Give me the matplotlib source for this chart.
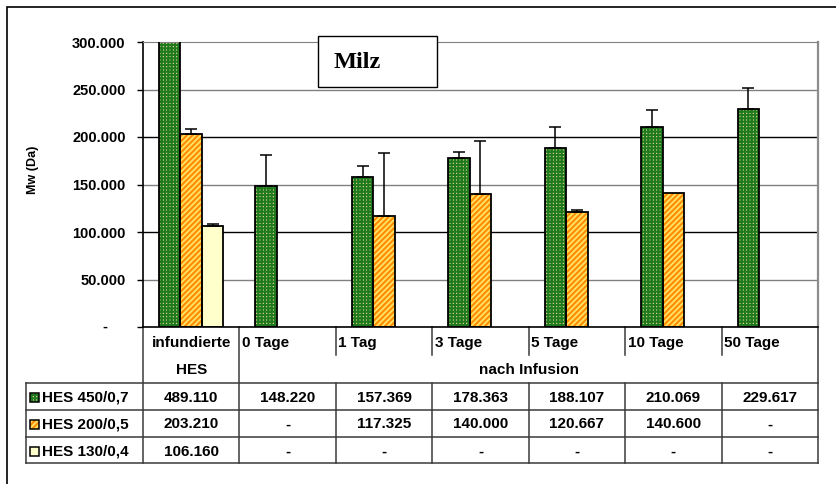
import numpy as np
import matplotlib.pyplot as plt
from matplotlib.patches import Rectangle
from matplotlib.lines import Line2D

plt.rcParams['font.family'] = ['Liberation Sans', 'DejaVu Sans']
plt.rcParams['font.weight'] = 'bold'
plt.rcParams['hatch.linewidth'] = 1.5

# Mw in Da, spleen ("Milz")
groups = ['infundierte', '0 Tage', '1 Tag', '3 Tage', '5 Tage', '10 Tage', '50 Tage']
series = ['HES 450/0,7', 'HES 200/0,5', 'HES 130/0,4']
hes450 = [489110, 148220, 157369, 178363, 188107, 210069, 229617]
hes200 = [203210, np.nan, 117325, 140000, 120667, 140600, np.nan]
hes130 = [106160, np.nan, np.nan, np.nan, np.nan, np.nan, np.nan]
# upper error bars (SD)
err450 = [0, 33000, 12000, 5500, 22000, 18700, 21600]
err200 = [5000, 0, 66000, 56000, 3000, 0, 0]
err130 = [2500, 0, 0, 0, 0, 0, 0]

yticks = [0, 50000, 100000, 150000, 200000, 250000, 300000]
ytick_labels = ['', '50.000', '100.000', '150.000', '200.000', '250.000', '300.000']

values = [hes450, hes200, hes130]
errors = [err450, err200, err130]
styles = [
    dict(face='#e6d48e', hatch='+++++', hcolor='#1f7a1f'),
    dict(face='#ffe266', hatch='//////', hcolor='#ff8c00'),
    dict(face='#ffffcc', hatch=None, hcolor='#ffffcc'),
]

W, H = 836, 484
fig = plt.figure(figsize=(W / 100, H / 100), dpi=100)
ax = fig.add_axes([143 / W, 1 - 327 / H, 675 / W, 285 / H])

x = np.arange(len(groups))
bw = 0.223
for k in range(3):
    vals = np.array(values[k], dtype=float)
    have = ~np.isnan(vals)
    v = np.nan_to_num(vals)
    off = (k - 1) * bw
    st = styles[k]
    # hatched fill first, then black outline on top
    ax.bar((x + off)[have], v[have], bw, color=st['face'], edgecolor=st['hcolor'],
           hatch=st['hatch'], linewidth=0, zorder=2)
    ax.bar((x + off)[have], v[have], bw, facecolor='none', edgecolor='black',
           linewidth=1.3, zorder=3)
    e = np.array(errors[k], dtype=float)
    m = e > 0
    ax.errorbar((x + off)[m], v[m], yerr=[np.zeros(m.sum()), e[m]], fmt='none',
                ecolor='black', elinewidth=1.1, capsize=4, capthick=1.1, zorder=4)

ax.set_xlim(-0.5, len(groups) - 0.5)
ax.set_ylim(0, 300000)
ax.set_xticks([])
ax.set_yticks(yticks)
ax.set_yticklabels(ytick_labels)
ax.tick_params(axis='y', direction='out', length=4.5, width=1, pad=8, labelsize=10.5)
# zero shown as a dash
ax.text(-38 / 675, 0, '-', transform=ax.transAxes, ha='center', va='center', fontsize=10.5)

grid_colors = ['#808080', 'black', '#808080', 'black', '#808080']
for yv, c in zip(yticks[1:-1], grid_colors):
    ax.axhline(yv, color=c, linewidth=1, zorder=1)

ax.spines['left'].set_linewidth(1.2)
ax.spines['bottom'].set_linewidth(1.2)
ax.spines['top'].set_color('#808080')
ax.spines['right'].set_color('#8c8c8c')
ax.spines['right'].set_linewidth(1.6)

fig.text(33 / W, 1 - 170 / H, 'Mw (Da)', rotation=90, ha='center', va='center', fontsize=9)

# title box
ax.add_patch(Rectangle((0.2593, 0.842), 0.1763, 0.179, transform=ax.transAxes,
                       facecolor='white', edgecolor='black', linewidth=1, zorder=5, clip_on=False))
ax.text(0.283, (327 - 68) / 285, 'Milz', transform=ax.transAxes, ha='left', va='baseline',
        fontsize=17.5, family=['Liberation Serif', 'DejaVu Serif'], fontweight='bold', zorder=6)

# data table under the plot
tr = ax.get_xaxis_transform()


def fy(p):
    return (327 - p) / 285


left_edge = -0.5 - (143 - 26) / 96.43
right_edge = len(groups) - 0.5
lc = '#3a3a3a'


def line(xs, ys):
    ax.add_line(Line2D(xs, ys, transform=tr, color=lc, linewidth=1.1, clip_on=False))


for p in [383, 410, 437, 463]:
    line([left_edge, right_edge], [fy(p), fy(p)])
for xb in [-0.5, 0.5, right_edge]:
    line([xb, xb], [fy(327), fy(463)])
for xb in np.arange(1.5, len(groups) - 1, 1.0):
    line([xb, xb], [fy(327), fy(355)])
    line([xb, xb], [fy(383), fy(463)])
line([left_edge, left_edge], [fy(383), fy(463)])

ax.text(0, fy(347), groups[0], transform=tr, ha='center', va='baseline', fontsize=11)
ax.text(0, fy(374), 'HES', transform=tr, ha='center', va='baseline', fontsize=11)
for i in range(1, len(groups)):
    ax.text(i - 0.5 + 0.025, fy(347), groups[i], transform=tr, ha='left', va='baseline', fontsize=11)
ax.text((0.5 + right_edge) / 2, fy(374), 'nach Infusion', transform=tr, ha='center',
        va='baseline', fontsize=11)

row_base = [401.5, 428.5, 455.5]
sq_x0 = -0.5 - (143 - 30) / 96.43
sq_w = 9 / 96.43
for k in range(3):
    b = row_base[k]
    st = styles[k]
    ax.add_patch(Rectangle((sq_x0, fy(b)), sq_w, 9 / 285, transform=tr, facecolor=st['face'],
                           edgecolor=st['hcolor'], hatch=st['hatch'], linewidth=0, clip_on=False))
    ax.add_patch(Rectangle((sq_x0, fy(b)), sq_w, 9 / 285, transform=tr, facecolor='none',
                           edgecolor='black', linewidth=1.1, clip_on=False))
    ax.text(-0.5 - (143 - 42) / 96.43, fy(b), series[k], transform=tr, ha='left',
            va='baseline', fontsize=11)
    for i, v in enumerate(values[k]):
        s = '-' if np.isnan(v) else f'{v:,.0f}'.replace(',', '.')
        ax.text(i, fy(b), s, transform=tr, ha='center', va='baseline', fontsize=11)

# outer frame
fig.patches.append(Rectangle((7 / W, -0.1), 1.2, 1 - 7 / H + 0.1, transform=fig.transFigure,
                             fill=False, edgecolor='black', linewidth=1.2))

fig.savefig('out.png', dpi=100)
